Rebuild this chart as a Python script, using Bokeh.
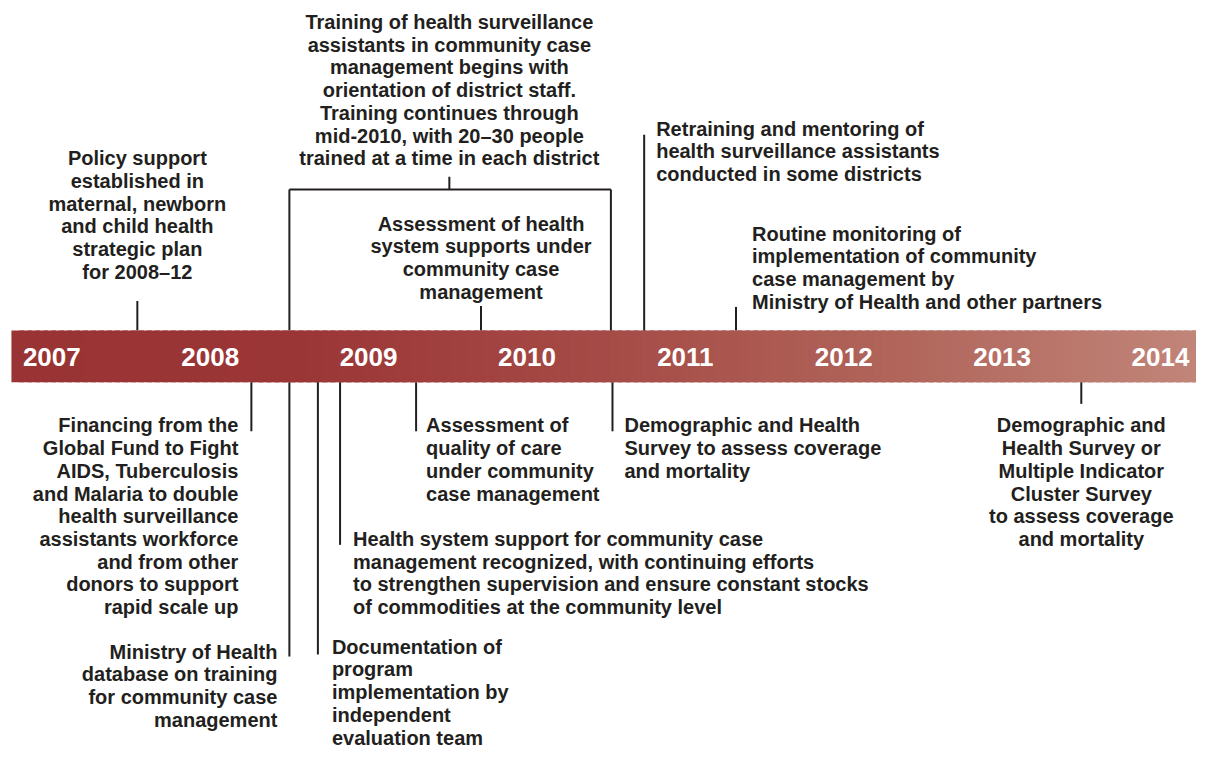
import numpy as np
from bokeh.plotting import figure
from bokeh.models import Range1d
from bokeh.core.properties import value
from bokeh.embed import file_html
from bokeh.resources import INLINE

# ---------------- data ----------------
years = [2007, 2008, 2009, 2010, 2011, 2012, 2013, 2014]

event_texts = [
    "Policy support\nestablished in\nmaternal, newborn\nand child health\nstrategic plan\nfor 2008–12",
    "Training of health surveillance\nassistants in community case\nmanagement begins with\norientation of district staff.\nTraining continues through\nmid-2010, with 20–30 people\ntrained at a time in each district",
    "Assessment of health\nsystem supports under\ncommunity case\nmanagement",
    "Retraining and mentoring of\nhealth surveillance assistants\nconducted in some districts",
    "Routine monitoring of\nimplementation of community\ncase management by\nMinistry of Health and other partners",
    "Financing from the\nGlobal Fund to Fight\nAIDS, Tuberculosis\nand Malaria to double\nhealth surveillance\nassistants workforce\nand from other\ndonors to support\nrapid scale up",
    "Ministry of Health\ndatabase on training\nfor community case\nmanagement",
    "Documentation of\nprogram\nimplementation by\nindependent\nevaluation team",
    "Health system support for community case\nmanagement recognized, with continuing efforts\nto strengthen supervision and ensure constant stocks\nof commodities at the community level",
    "Assessment of\nquality of care\nunder community\ncase management",
    "Demographic and Health\nSurvey to assess coverage\nand mortality",
    "Demographic and\nHealth Survey or\nMultiple Indicator\nCluster Survey\nto assess coverage\nand mortality",
]
# approximate event dates (fractional years)
event_dates = [2007.54, 2009.51, 2009.71, 2010.74, 2011.32,
               2008.26, 2008.50, 2008.68, 2008.82, 2009.30, 2010.54, 2013.50]
event_side = ["above", "above", "above", "above", "above",
              "below", "below", "below", "below", "below", "below", "below"]

training_start = 2008.50
training_end = 2010.53

# ---------------- layout (styling) ----------------
# y units = vertical pixels of the original graphic, top down
BAR_TOP, BAR_BOTTOM = 337, 390
stem_end = [307, 180, 312, 137, 313, 440, 670, 668, 556, 440, 440, 412]
label_dx = [0, 0, 0, 12, 16, -13, -12, 14, 13, 10, 12, 0]
label_align = ["center", "center", "center", "left", "left", "right", "right",
               "left", "left", "left", "left", "center"]
label_y0 = [161, 22, 228, 131, 238, 434, 665, 660, 550, 434, 434, 434]
LINE_STEP = 23.2
INK = "#231f20"
FONT = value("Liberation Sans")

bar_stops_x = [2006.745, 2008.545, 2010.414, 2012.283, 2014.3]
bar_stops_rgb = [(153, 51, 52), (155, 54, 54), (165, 74, 70), (176, 100, 90), (194, 134, 122)]

X0 = 2007 - 52 / 160.5
X1 = 2007 + (1212 - 52) / 160.5

p = figure(width=1196, height=749, output_backend="svg", toolbar_location=None,
           x_range=Range1d(X0, X1), y_range=Range1d(765, 0),
           min_border=0, outline_line_color=None)
p.axis.visible = False
p.grid.visible = False
p.background_fill_color = "white"
p.border_fill_color = "white"

# gradient bar from many thin overlapping slices
n = 150
edges = np.linspace(bar_stops_x[0], bar_stops_x[-1], n + 1)
step = edges[1] - edges[0]
mids = (edges[:-1] + edges[1:]) / 2
cols = []
for m in mids:
    r = np.interp(m, bar_stops_x, [c[0] for c in bar_stops_rgb])
    g = np.interp(m, bar_stops_x, [c[1] for c in bar_stops_rgb])
    b = np.interp(m, bar_stops_x, [c[2] for c in bar_stops_rgb])
    cols.append("#%02x%02x%02x" % (int(round(r)), int(round(g)), int(round(b))))
right = edges[1:] + step * 0.6
right[-1] = edges[-1]
p.quad(left=edges[:-1], right=right, top=BAR_TOP, bottom=BAR_BOTTOM,
       fill_color=cols, line_color=None)

# year labels
p.text(x=years, y=[364] * len(years), text=[str(y) for y in years],
       text_color="white", text_font=FONT, text_font_style="bold",
       text_font_size="26px", text_align="center", text_baseline="middle")

# stems
sx, sy0, sy1 = [], [], []
for i, (d, side) in enumerate(zip(event_dates, event_side)):
    if i == 1:
        continue
    sx.append(d)
    sy0.append(BAR_TOP if side == "above" else BAR_BOTTOM)
    sy1.append(stem_end[i])
p.segment(x0=sx, y0=sy0, x1=sx, y1=sy1, line_color=INK, line_width=2)

# training bracket
bracket_top = 193
p.segment(x0=[training_start, training_end, training_start, event_dates[1]],
          y0=[BAR_TOP, BAR_TOP, bracket_top, bracket_top],
          x1=[training_start, training_end, training_end, event_dates[1]],
          y1=[bracket_top, bracket_top, bracket_top, stem_end[1]],
          line_color=INK, line_width=2)

# event labels
groups = {}
for i, t in enumerate(event_texts):
    for k, line in enumerate(t.split("\n")):
        g = groups.setdefault(label_align[i], {"x": [], "y": [], "text": [], "dx": []})
        g["x"].append(event_dates[i])
        g["y"].append(label_y0[i] + k * LINE_STEP)
        g["text"].append(line)
        g["dx"].append(label_dx[i])
for align, g in groups.items():
    p.text(x=g["x"], y=g["y"], text=g["text"], x_offset=g["dx"],
           text_color=INK, text_font=FONT, text_font_style="bold",
           text_font_size="20px", text_align=align, text_baseline="middle")

open("out.html", "w").write(file_html(p, INLINE))
